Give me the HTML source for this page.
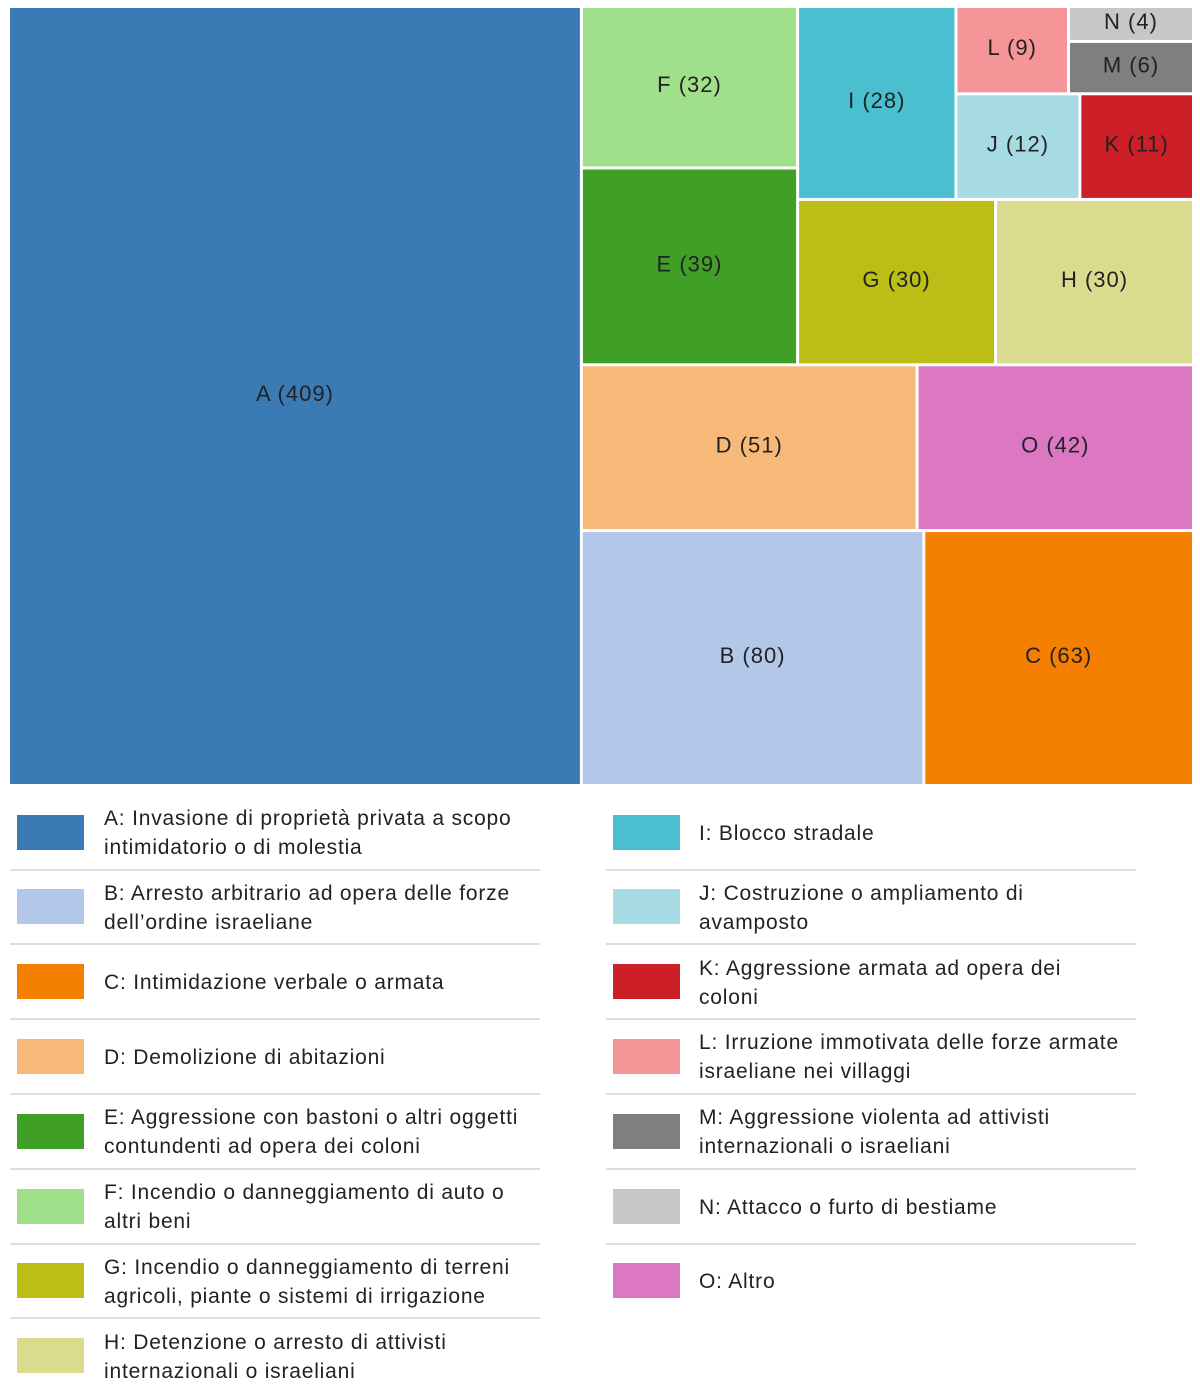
<!DOCTYPE html>
<html><head><meta charset="utf-8">
<style>
body{margin:0;background:#fff;width:1200px;height:1385px;overflow:hidden;font-family:"Liberation Sans","DejaVu Sans",sans-serif;}
#chart{position:absolute;left:0;top:0}
.lg{position:absolute;font-size:21px;letter-spacing:0.8px;color:#222;line-height:29px;white-space:nowrap}
.sw{position:absolute;width:67px;height:35px}
.sep{position:absolute;height:2px;background:#ddd}
</style></head><body>
<svg id="chart" width="1200" height="790"></svg>
<div id="legend"></div>
<script>
const categories = ["A","B","C","D","E","F","G","H","I","J","K","L","M","N","O"];
const values = [409,80,63,51,39,32,30,30,28,12,11,9,6,4,42];
const descriptions = [
"A: Invasione di proprietà privata a scopo<br>intimidatorio o di molestia",
"B: Arresto arbitrario ad opera delle forze<br>dell’ordine israeliane",
"C: Intimidazione verbale o armata",
"D: Demolizione di abitazioni",
"E: Aggressione con bastoni o altri oggetti<br>contundenti ad opera dei coloni",
"F: Incendio o danneggiamento di auto o<br>altri beni",
"G: Incendio o danneggiamento di terreni<br>agricoli, piante o sistemi di irrigazione",
"H: Detenzione o arresto di attivisti<br>internazionali o israeliani",
"I: Blocco stradale",
"J: Costruzione o ampliamento di<br>avamposto",
"K: Aggressione armata ad opera dei<br>coloni",
"L: Irruzione immotivata delle forze armate<br>israeliane nei villaggi",
"M: Aggressione violenta ad attivisti<br>internazionali o israeliani",
"N: Attacco o furto di bestiame",
"O: Altro"];
const colors = ["#3a7ab5","#b3c8e8","#f57f00","#f7b978","#3f9f27","#a1e08a","#bcbd16","#dbdb8d","#49bfcf","#a7dbe4","#cc1f27","#f69598","#7f7f7f","#c7c7c7","#db77c3"];
const tree = {d:"h",c:[0,{d:"v",c:[
  {d:"h",c:[{d:"v",c:[5,4]},{d:"v",c:[
    {d:"h",c:[8,{d:"v",c:[{d:"h",c:[11,{d:"v",c:[13,12]}]},{d:"h",c:[9,10]}]}]},
    {d:"h",c:[6,7]}]}]},
  {d:"h",c:[3,14]},
  {d:"h",c:[1,2]}]}]};
function sum(n){return typeof n==="number"?values[n]:n.c.reduce((s,k)=>s+sum(k),0);}
const svg=document.getElementById('chart');
const NS="http://www.w3.org/2000/svg";
function layout(n,x,y,w,h){
  if(typeof n==="number"){
    const g=1.5;
    const r=document.createElementNS(NS,'rect');
    r.setAttribute('x',x+g);r.setAttribute('y',y+g);
    r.setAttribute('width',Math.max(0,w-2*g));r.setAttribute('height',Math.max(0,h-2*g));
    r.setAttribute('fill',colors[n]);
    
    
    svg.appendChild(r);
    const t=document.createElementNS(NS,'text');
    t.setAttribute('x',x+w/2);t.setAttribute('y',y+h/2+5);
    t.setAttribute('text-anchor','middle');t.setAttribute('font-size','22');t.setAttribute('fill','#222');
    t.setAttribute('letter-spacing','1');
    t.setAttribute('font-family','Liberation Sans, sans-serif');
    t.textContent=categories[n]+' ('+values[n]+')';
    
    
    svg.appendChild(t);
    return;
  }
  const tot=sum(n);let off=0;
  n.c.forEach(k=>{
    const f=sum(k)/tot;
    if(n.d==="h"){layout(k,x+off,y,w*f,h);off+=w*f;}
    else{layout(k,x,y+off,w,h*f);off+=h*f;}
  });
}
layout(tree,8.5,6.5,1185,779);
const lg=document.getElementById('legend');
for(let i=0;i<categories.length;i++){
  const col=i<8?0:1,row=i<8?i:i-8;
  const bx=col?613:17,tx=col?699:104,lx=col?606:10;
  const cy=832+row*74.8;
  const sw=document.createElement('div');
  sw.className='sw';sw.style.left=bx+'px';sw.style.top=(cy-17.5)+'px';sw.style.background=colors[i];
  
  
  lg.appendChild(sw);
  const tx2=document.createElement('div');
  tx2.className='lg';
  const lines=descriptions[i].split('<br>').length;
  tx2.style.left=tx+'px';tx2.style.top=(cy-lines*14.5+1)+'px';
  tx2.innerHTML=descriptions[i];
  
  
  lg.appendChild(tx2);
  if(!(col===0&&row===7)&&!(col===1&&row===6)){
    const s=document.createElement('div');
    s.className='sep';s.style.left=lx+'px';s.style.width='530px';s.style.top=(cy+36.5)+'px';
    
    
    lg.appendChild(s);
  }
}
</script>
</body></html>
